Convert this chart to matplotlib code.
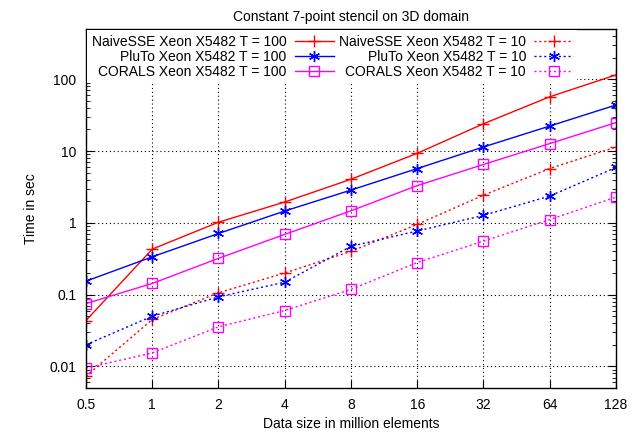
import numpy as np
import matplotlib
matplotlib.use("Agg")
import matplotlib.pyplot as plt
from matplotlib.ticker import NullFormatter, LogLocator

plt.rcParams['font.family'] = ['Liberation Sans', 'DejaVu Sans']

# data size (million elements)
sizes = [0.5, 1, 2, 4, 8, 16, 32, 64, 128]
size_labels = ['0.5', '1', '2', '4', '8', '16', '32', '64', '128']

# time in sec, T = 100
naive_100 = [0.0435, 0.43, 1.02, 1.95, 4.05, 9.3, 24, 57, 115]
pluto_100 = [0.154, 0.336, 0.71, 1.46, 2.86, 5.7, 11.4, 22.3, 43.8]
corals_100 = [0.075, 0.143, 0.32, 0.69, 1.47, 3.3, 6.5, 12.7, 24.9]

# time in sec, T = 10
naive_10 = [0.0073, 0.045, 0.106, 0.20, 0.40, 0.95, 2.43, 5.7, 11.4]
pluto_10 = [0.020, 0.050, 0.093, 0.149, 0.47, 0.77, 1.27, 2.36, 5.9]
corals_10 = [0.0095, 0.0154, 0.0356, 0.060, 0.118, 0.28, 0.556, 1.11, 2.28]

fig = plt.figure(figsize=(6.44, 4.34), dpi=100)
ax = fig.add_axes([0.1335, 0.106, 0.823, 0.827])

x = np.log2(sizes)
dot = (0, (1.5, 2))
star = (6, 2, 0)

ax.plot(x, naive_100, color='#ff0000', lw=1, marker='+', ms=8, mew=1,
        label='NaiveSSE Xeon X5482 T = 100')
ax.plot(x, pluto_100, color='#0000ff', lw=1, marker=star, ms=8, mew=1,
        label='PluTo Xeon X5482 T = 100')
ax.plot(x, corals_100, color='#ff00ff', lw=1, marker='s', ms=7.5, mew=1,
        mfc='none', label='CORALS Xeon X5482 T = 100')
ax.plot(x, naive_10, color='#ff0000', lw=1, ls=dot, marker='+', ms=8, mew=1,
        label='NaiveSSE Xeon X5482 T = 10')
ax.plot(x, pluto_10, color='#0000ff', lw=1, ls=dot, marker=star, ms=8, mew=1,
        label='PluTo Xeon X5482 T = 10')
ax.plot(x, corals_10, color='#ff00ff', lw=1, ls=dot, marker='s', ms=7.5, mew=1,
        mfc='none', label='CORALS Xeon X5482 T = 10')

ax.set_yscale('log')
ax.set_ylim(0.005, 500)
ax.set_xlim(x[0], x[-1])

ax.set_xticks(x)
ax.set_xticklabels(size_labels)
ax.set_yticks([0.01, 0.1, 1, 10, 100])
ax.set_yticklabels(['0.01', '0.1', '1', '10', '100'])
ax.yaxis.set_minor_locator(LogLocator(base=10, subs=np.arange(2, 10)))
ax.yaxis.set_minor_formatter(NullFormatter())

ax.tick_params(which='both', direction='in', top=True, right=True, labelsize=10)
ax.tick_params(which='major', length=6, pad=7)
ax.tick_params(which='minor', length=3)
ax.grid(True, which='major', color='black', ls=(0, (1, 2.5)), lw=0.8)

for s in ax.spines.values():
    s.set_linewidth(1)

ax.set_xlabel('Data size in million elements', fontsize=10)
ax.set_ylabel('Time in sec', fontsize=10, labelpad=8)
ax.set_title('Constant 7-point stencil on 3D domain', fontsize=10, pad=6)

leg = ax.legend(loc='upper left', ncol=2, markerfirst=False, fontsize=10,
                handlelength=2.8, handletextpad=0.6, columnspacing=0.4,
                labelspacing=0.08, borderpad=0.3, borderaxespad=0.1,
                frameon=True, fancybox=False, framealpha=1)
leg.get_frame().set_edgecolor('none')
leg.get_frame().set_facecolor('white')

fig.savefig('out.png', dpi=100)
